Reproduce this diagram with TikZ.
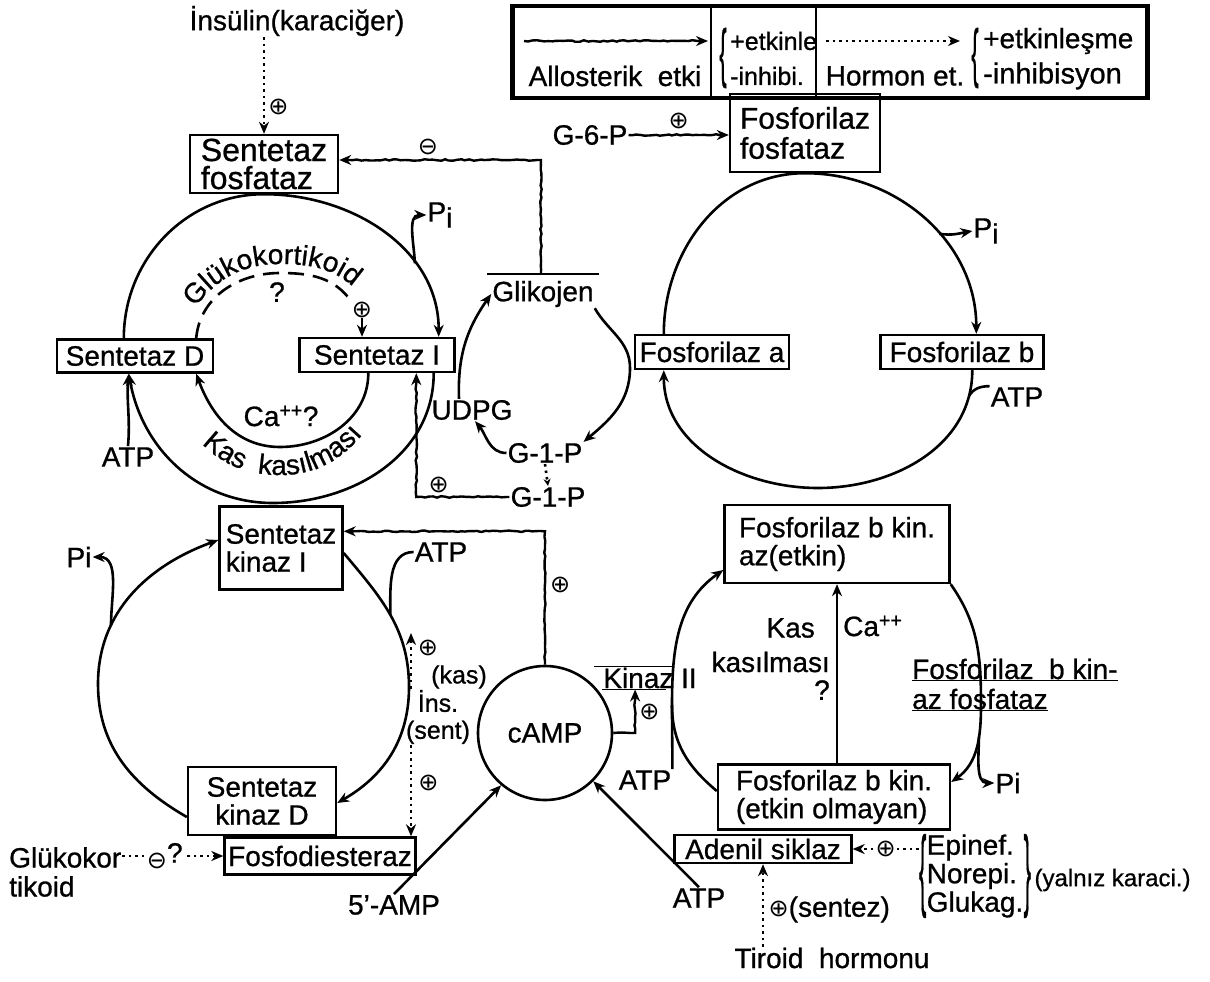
\documentclass[tikz,border=0pt]{standalone}
\usepackage{fontspec}
\setmainfont[FakeBold=0.8]{Liberation Sans}
\newfontfamily\symf{DejaVu Sans}
\usepackage{tikz}
\usetikzlibrary{arrows.meta,positioning,calc,decorations.pathmorphing,decorations.text}

\newcommand{\bigf}{\fontsize{28}{28}\selectfont}
\newcommand{\midf}{\fontsize{25}{27}\selectfont}
\newcommand{\sgnp}{{\symf\fontsize{24}{24}\selectfont ⊕}}
\newcommand{\sgnm}{{\symf\fontsize{24}{24}\selectfont ⊖}}

\begin{document}
\begin{tikzpicture}[x=1pt, y=-1pt,
    box/.style={rectangle, draw, line width=2.4pt, inner sep=3pt, font=\bigf, align=center},
    lbl/.style={inner sep=1pt, font=\bigf},
    sml/.style={inner sep=1pt, font=\midf, align=center},
    sgn/.style={inner sep=0pt},
    cyc/.style={line width=2.6pt},
    arr/.style={-{Stealth[length=12pt, width=10pt]}},
    allo/.style={line width=2.4pt, decorate, decoration={random steps, segment length=4pt, amplitude=0.8pt, post length=10pt}},
    horm/.style={line width=2.6pt, dash pattern=on 2.5pt off 4pt},
    curv/.style={decorate, decoration={text along path, text align=center, text={#1}}},
  ]
    \fill[white] (0,0) rectangle (1210,982);
    \useasboundingbox (0,0) rectangle (1210,982);

    % legend
    \node[draw, line width=4.5pt, minimum width=635pt, minimum height=92pt] (leg) at (830,52) {};
    \foreach \dx in {201,306}
      \draw[line width=1.8pt] ([xshift=\dx pt]leg.north west) -- ([xshift=\dx pt]leg.south west);
    \coordinate (lwa) at (524,41);
    \coordinate (lwb) at (708,41);
    \draw[allo,arr] (lwa) -- (lwb);
    \node[lbl] (lallo) at (615,76) {Allosterik\ \ etki};
    \node[lbl, inner sep=0pt] (lbr1) at (723,58) {\scalebox{0.8}[2.3]{\{}};
    \node[lbl, font=\fontsize{25}{25}\selectfont, anchor=west] (letk1) at (729,41) {+etkinle};
    \node[lbl, font=\fontsize{25}{25}\selectfont, anchor=west] (linh1) at (729,76) {-inhibi.};
    \coordinate (lda) at (826,41);
    \coordinate (ldb) at (960,41);
    \draw[horm,arr] (lda) -- (ldb);
    \node[lbl] (lhor) at (895,76) {Hormon\ et.};
    \node[lbl, inner sep=0pt] (lbr2) at (975,58) {\scalebox{0.8}[2.3]{\{}};
    \node[lbl, anchor=west] (letk2) at (982,41) {+etkinleşme};
    \node[lbl, font=\fontsize{29}{29}\selectfont, anchor=west] (linh2) at (982,76) {-inhibisyon};

    % glycogen synthase side
    \node[lbl] (insl) at (297,21) {İnsülin(karaciğer)};
    \node[box, font=\fontsize{32}{28}\selectfont, minimum width=148pt, minimum height=58pt, align=left] (sf) at (264,164) {Sentetaz\\fosfataz};
    \draw[horm,arr] (insl.south -| sf.north) -- (sf.north) node[sgn, pos=.72, right=3pt] {\sgnp};
    \node[lbl] (glk) at (543,294) {Glikojen};
    \draw[line width=2.4pt] ($(glk.north west)+(-4,-6)$) -- ($(glk.north east)+(4,-6)$);
    \draw[allo,arr] ($(glk.north)+(-2,-6)$) |- ($(sf.east)+(0,-4)$) node[sgn, pos=.78, above=4pt] {\sgnm};
    \node[lbl] (g6p) at (590,135) {G-6-P};
    \node[box, font=\fontsize{30}{30}\selectfont, minimum width=150pt, minimum height=78pt, align=left] (ff) at (805,133) {Fosforilaz\\fosfataz};
    \draw[allo,arr] (g6p.east) -- (g6p.east -| ff.west) node[sgn, midway, above=5pt] {\sgnp};

    \node[box, minimum width=156pt, minimum height=33pt] (sd) at (135,356) {Sentetaz D};
    \node[box, minimum width=155pt, minimum height=34pt] (si) at (377,355) {Sentetaz I};
    \node[lbl] (piA) at (440,215) {P\raisebox{-6pt}{i}};
    \draw[cyc,arr] ($(sd.north west)+(68,0)$) to[out=90,in=180] (sf.south)
      to[out=0,in=90] coordinate[pos=.68] (piAo) ($(si.north east)+(-17,0)$);
    \draw[cyc,arr] (piAo) to[out=92,in=180] (piA.west);
    \coordinate (obot) at (273,503);
    \draw[cyc,arr] ($(si.south east)+(-22,0)$) to[out=-90,in=0] (obot)
      to[out=180,in=-80] ($(sd.south west)+(73,0)$);
    \node[lbl] (atpL) at (128,457) {ATP};
    \draw[cyc,arr] (atpL.north) to[out=85,in=-95] ($(sd.south west)+(73,0)$);

    % inner cycle
    \node[sgn] (gkp) at (362,310) {\sgnp};
    \coordinate (gtop) at (280,273);
    \draw[cyc, dash pattern=on 16pt off 9pt] ($(sd.north east)+(-18,0)$) to[out=85,in=180] (gtop)
      to[out=0,in=125] (gkp.north west);
    \draw[cyc,arr] (gkp.south) -- (gkp.south |- si.north);
    \path[curv={|\bigf|Glükokortikoid}] (186,322) to[out=60,in=180] (280,264) to[out=0,in=125] (364,300);
    \node[lbl] (gq) at (277,292) {?};
    \coordinate (ibot) at (280,447);
    \draw[cyc,arr] ($(si.south west)+(70,0)$) to[out=-90,in=0] (ibot)
      to[out=180,in=-70] ($(sd.south east)+(-18,0)$);
    \path[curv={|\bigf|Kas\ \ kasılması}] (184,422) to[out=-55,in=180] (280,475) to[out=0,in=235] (380,412);
    \node[lbl] (ca1) at (281,416) {Ca\textsuperscript{++}?};

    % glycogen cycle
    \node[lbl] (udpg) at (472,410) {UDPG};
    \node[lbl] (g1p) at (545,453) {G-1-P};
    \node[lbl] (g1p2) at (548,497) {G-1-P};
    \coordinate (grr) at (630,368);
    \draw[cyc,arr] ($(udpg.north)+(-13,0)$) to[out=92,in=-125] (glk.west);
    \draw[cyc,arr] (glk.south east) to[out=-60,in=90] (grr) to[out=-90,in=40] (g1p.north east);
    \draw[cyc,arr] (g1p.west) to[out=180,in=-50] ($(udpg.south)+(3,0)$);
    \draw[horm,-{Stealth[length=7pt, width=7pt]}] (g1p.south) -- (g1p2.north);
    \draw[allo,arr] (g1p2.west) -| ($(si.south west)+(118,0)$) node[sgn, pos=.38, above=3pt] {\sgnp};

    % phosphorylase cycle
    \node[box, minimum width=154pt, minimum height=34pt] (fa) at (712,352) {Fosforilaz a};
    \node[box, minimum width=163pt, minimum height=34pt] (fb) at (962,352) {Fosforilaz b};
    \node[lbl] (piB) at (986,231) {P\raisebox{-6pt}{i}};
    \coordinate (fbot) at (818,488);
    \draw[cyc,arr] ($(fa.north west)+(30,0)$) to[out=90,in=180] (ff.south)
      to[out=0,in=90] coordinate[pos=.58] (piBo) ($(fb.north west)+(97,0)$);
    \draw[cyc,arr] (piBo) to[out=-10,in=190] (piB.west);
    \draw[cyc,arr] ($(fb.south west)+(93,0)$) to[out=-90,in=0] coordinate[pos=.12] (atpRo) (fbot)
      to[out=180,in=-90] ($(fa.south west)+(30,0)$);
    \node[lbl] (atpR) at (1017,397) {ATP};
    \draw[cyc] (atpR.north west) to[out=180,in=60] (atpRo);

    % synthase kinase cycle
    \node[box, align=left, minimum width=123pt, minimum height=83pt] (ski) at (281,548) {Sentetaz\\kinaz I};
    \node[box, minimum width=148pt, minimum height=68pt] (skd) at (262,801) {Sentetaz\\kinaz D};
    \node[box, minimum width=191pt, minimum height=37pt] (fdes) at (320,856) {Fosfodiesteraz};
    \node[circle, draw, line width=2.6pt, minimum size=134pt, font=\bigf] (camp) at (545,733) {cAMP};
    \node[lbl] (piC) at (79,557) {Pi};
    \coordinate (lb1) at (98,684);
    \coordinate (rb1) at (409,687);
    \draw[cyc,arr] ($(skd.west)+(0,16)$) to[out=150,in=-90] (lb1)
      to[out=90,in=200] coordinate[pos=.3] (piCo) ($(ski.west)+(0,-8)$);
    \draw[cyc,arr] (piCo) to[out=90,in=0] (piC.east);
    \draw[cyc,arr] ($(ski.east)+(0,5)$) to[out=-50,in=90] coordinate[pos=.5] (atpMo) (rb1)
      to[out=-90,in=30] ($(skd.east)+(0,2)$);
    \node[lbl] (atpM) at (441,552) {ATP};
    \draw[cyc] (atpM.west) to[out=180,in=90] (atpMo);
    \draw[allo,arr] (camp.north) |- ($(ski.north east)+(0,26)$) node[sgn, pos=.3, right=4pt] {\sgnp};

    % insulin / glucocorticoid on phosphodiesterase
    \coordinate (ix) at (411,0);
    \coordinate (insup) at (411,633);
    \node[sgn] (pk1) at (428,648) {\sgnp};
    \node[sml] (kas1) at (459,677) {(kas)};
    \node[sml] (insk) at (438,717) {İns.\\(sent)};
    \draw[horm,arr] (insk.north -| ix) -- (insup);
    \draw[horm,arr] (insk.south -| ix) -- (fdes.north -| ix) node[sgn, pos=.42, right=6pt] {\sgnp};
    \node[lbl, font=\fontsize{28}{29}\selectfont, align=left, anchor=west] (gk2) at (8,872) {Glükokor\\tikoid};
    \draw[horm,arr] (gk2.east |- fdes.west) -- (fdes.west) node[pos=.42, fill=white, inner sep=1pt, font=\bigf] {\raisebox{-6pt}{\sgnm}?};
    \node[lbl] (amp5) at (394,905) {5'-AMP};
    \draw[cyc,arr] (amp5.north) -- (camp.-130);

    % phosphorylase kinase cycle
    \node[box, align=left, minimum width=225pt, minimum height=78pt] (fbke) at (837,544) {Fosforilaz b kin.\\az(etkin)};
    \node[box, align=left, minimum width=232pt, minimum height=65pt] (fbko) at (834,797) {Fosforilaz b kin.\\(etkin olmayan)};
    \coordinate (vb) at ($(fbko.north)+(3,0)$);
    \draw[cyc,arr] (vb) -- (vb |- fbke.south);
    \node[lbl, anchor=east] (kas2) at (816,628) {Kas};
    \node[lbl, anchor=west] (ca2) at (842,626) {Ca\textsuperscript{++}};
    \node[lbl, anchor=east] (kas3) at (831,662) {kasılması};
    \node[lbl] (q2) at (822,690) {?};
    \node[lbl] (kinz) at (650,678) {Kinaz II};
    \draw[line width=1.8pt] ($(kinz.north west)+(-8,0)$) -- ($(kinz.north east)+(-24,0)$);
    \draw[line width=1.8pt] (kinz.south west) -- ($(kinz.south west)+(64,0)$);
    \draw[allo,arr] (camp.east) -| ($(kinz.south west)+(33,0)$) node[sgn, pos=.74, right=3pt] {\sgnp};
    \coordinate (lbr) at (672,705);
    \coordinate (rbr) at (981,705);
    \draw[cyc,arr] ($(fbko.west)+(0,-6)$) to[out=140,in=-90] (lbr)
      to[out=90,in=-145] ($(fbke.west)+(0,26)$);
    \node[lbl] (atpR2) at (645,780) {ATP};
    \draw[cyc] (atpR2.north east) to[out=90,in=-90] (lbr);
    \draw[cyc,arr] (fbke.south east) to[out=-55,in=90] (rbr)
      to[out=-90,in=35] coordinate[pos=.35] (piDo) ($(fbko.east)+(0,-15)$);
    \node[lbl] (piD) at (1008,783) {Pi};
    \draw[cyc,arr] (piDo) to[out=-90,in=180] (piD.west);
    \node[lbl, font=\fontsize{28}{30}\selectfont, align=left, anchor=west] (fbkf) at (911,685) {\underline{Fosforilaz\ \ b kin-}\\\underline{az fosfataz}};

    % adenylate cyclase
    \node[box, minimum width=177pt, minimum height=28pt, inner sep=1pt] (ads) at (763,849) {Adenil siklaz};
    \node[lbl, font=\fontsize{28}{28.5}\selectfont, align=left] (hrm) at (975,876) {Epinef.\\Norepi.\\Glukag.};
    \node[lbl, inner sep=0pt, anchor=east] (hbl) at ($(hrm.west)+(1,0)$) {\scalebox{0.8}[3.2]{\{}};
    \node[lbl, inner sep=0pt, anchor=west] (hbr) at ($(hrm.east)+(-1,0)$) {\scalebox{0.8}[3.2]{\}}};
    \node[lbl, font=\fontsize{24}{24}\selectfont, anchor=west] (yal) at ($(hbr.east)+(2,4)$) {(yalnız karaci.)};
    \draw[horm,arr] (hbl.west |- ads.east) -- (ads.east) node[sgn, midway, fill=white] {\sgnp};
    \node[lbl] (atpB) at (699,898) {ATP};
    \draw[cyc,arr] (atpB.north) -- (camp.-45);
    \node[lbl] (tir) at (832,958) {Tiroid\ \ hormonu};
    \draw[horm,arr] (tir.north -| ads.south) -- (ads.south) node[pos=.45, right=1pt, font=\bigf] {\sgnp(sentez)};
  \end{tikzpicture}
\end{document}
